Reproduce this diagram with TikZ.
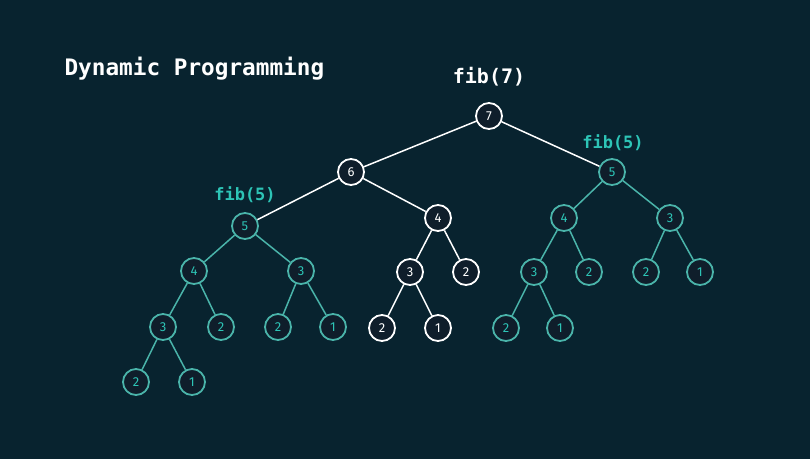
\documentclass[tikz,border=0pt]{standalone}
\usepackage{fontspec}
\setmainfont{Fira Sans}
\newfontfamily\codefont{DejaVu Sans Mono}
\definecolor{bgdark}{RGB}{8,35,47}
\definecolor{nodefill}{RGB}{15,30,43}
\definecolor{tealline}{RGB}{74,180,170}
\definecolor{tealtext}{RGB}{45,196,182}
\tikzset{
  fibnode/.style={circle, draw=white, fill=nodefill, line width=1.8pt,
    minimum size=26pt, inner sep=0pt, text=white, font=\fontsize{13}{13}\selectfont},
  memonode/.style={fibnode, draw=tealline, text=tealtext},
  plainedge/.style={draw=white, line width=1.5pt},
  memoedge/.style={draw=tealline, line width=1.5pt},
  calllabel/.style={font=\codefont\bfseries\fontsize{17}{17}\selectfont, text=tealtext}
}
\begin{document}
\begin{tikzpicture}[x=1pt,y=-1pt]
  \fill[bgdark] (0,0) rectangle (810,459);
  \useasboundingbox (0,0) rectangle (810,459);
  \node[anchor=base west, text=white, font=\codefont\bfseries\fontsize{22.7}{22.7}\selectfont]
    (title) at (61,75) {Dynamic Programming};
  % main calls
  \node[fibnode] (n7) at (489,116) {7};
  \node[fibnode] (n6) at (351,172) {6};
  \node[fibnode] (n4) at (438,218) {4};
  \node[fibnode] (n43) at (410,272) {3};
  \node[fibnode] (n42) at (466,272) {2};
  \node[fibnode] (n432) at (382,328) {2};
  \node[fibnode] (n431) at (438,328) {1};
  % left fib(5)
  \node[memonode] (a5) at (245,226) {5};
  \node[memonode] (a4) at (194,271) {4};
  \node[memonode] (a3) at (301,271) {3};
  \node[memonode] (a43) at (163,327) {3};
  \node[memonode] (a42) at (221,327) {2};
  \node[memonode] (a32) at (278,327) {2};
  \node[memonode] (a31) at (333,327) {1};
  \node[memonode] (a432) at (136,382) {2};
  \node[memonode] (a431) at (192,382) {1};
  % right fib(5)
  \node[memonode] (b5) at (612,172) {5};
  \node[memonode] (b4) at (564,218) {4};
  \node[memonode] (b3) at (670,218) {3};
  \node[memonode] (b43) at (534,272) {3};
  \node[memonode] (b42) at (589,272) {2};
  \node[memonode] (b32) at (646,272) {2};
  \node[memonode] (b31) at (700,272) {1};
  \node[memonode] (b432) at (506,328) {2};
  \node[memonode] (b431) at (560,328) {1};
  % labels
  \node[calllabel, text=white, font=\codefont\bfseries\fontsize{20}{20}\selectfont]
    (lab7) at (489,77) {fib(7)};
  \node[calllabel] (laba) at (245,195) {fib(5)};
  \node[calllabel] (labb) at (613,143) {fib(5)};
  % edges
  \foreach \u/\v in {n7/n6, n7/b5, n6/a5, n6/n4, n4/n43, n4/n42, n43/n432, n43/n431}
    \draw[plainedge] (\u) -- (\v);
  \foreach \u/\v in {a5/a4, a5/a3, a4/a43, a4/a42, a3/a32, a3/a31, a43/a432, a43/a431,
    b5/b4, b5/b3, b4/b43, b4/b42, b3/b32, b3/b31, b43/b432, b43/b431}
    \draw[memoedge] (\u) -- (\v);
\end{tikzpicture}
\end{document}
